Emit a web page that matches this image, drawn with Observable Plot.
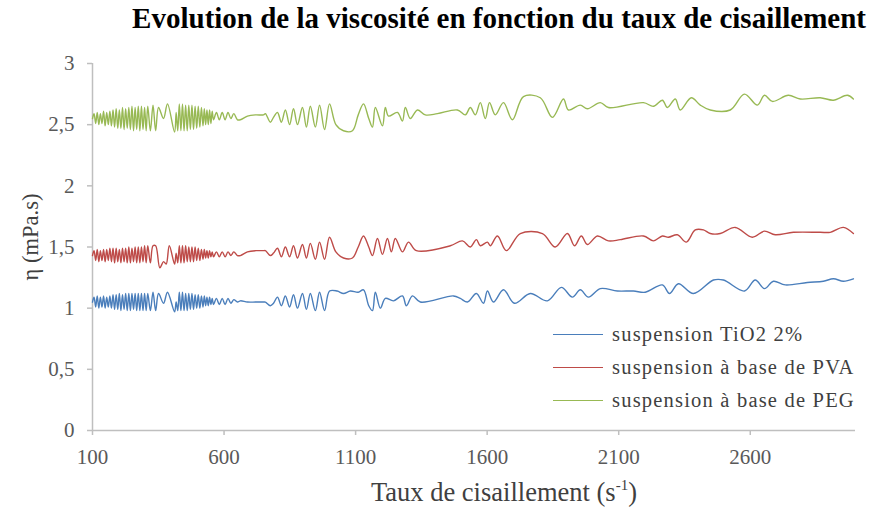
<!DOCTYPE html>
<html><head><meta charset="utf-8">
<script src="https://cdn.jsdelivr.net/npm/d3@7"></script>
<script src="https://cdn.jsdelivr.net/npm/@observablehq/plot@0.6"></script>
<style>
body{margin:0;background:#fff;}
#wrap{position:relative;width:871px;height:507px;font-family:"Liberation Serif",serif;}
#chart{position:absolute;left:0;top:0;}
#title{position:absolute;top:2px;right:5px;font-weight:bold;font-size:29px;color:#000;white-space:nowrap;}
#ylab{position:absolute;left:31px;top:237px;transform:translate(-50%,-50%) rotate(-90deg);font-size:22.5px;color:#404040;white-space:nowrap;}
#xlab{position:absolute;left:504px;top:492px;transform:translate(-50%,-50%);font-size:26.5px;color:#404040;white-space:nowrap;}
#xlab sup{font-size:15px;vertical-align:11px;}
.leg{position:absolute;left:553px;height:24px;display:flex;align-items:center;font-size:20.5px;letter-spacing:1.2px;color:#404040;white-space:nowrap;transform:translateY(-50%);}
.leg span.sw{display:inline-block;width:50px;height:0;border-top:1.5px solid;margin-right:9px;}
</style>
</head><body>
<div id="wrap">
<div id="chart"></div>
<div id="title"></div>
<div id="ylab"></div>
<div id="xlab"></div>
<div id="legend"></div>
</div>
<script>
const titleText = "Evolution de la viscosité en fonction du taux de cisaillement";
const yTitle = "η (mPa.s)";
const xTitle = "Taux de cisaillement (s";
const seriesNames = ["suspension TiO2 2%", "suspension à base de PVA", "suspension à base de PEG"];
const seriesColors = ["#4a7ebb", "#be4b48", "#98b954"];
const yTicks = [0, 0.5, 1, 1.5, 2, 2.5, 3];
const xTicks = [100, 600, 1100, 1600, 2100, 2600];

// [shear rate (s-1), viscosity (mPa.s)]
const tio2 = [[100,1.05],[106,1.09],[112,1.01],[118,1.10],[124,1.00],[130,1.09],[136,1.01],[142,1.10],[148,1.00],[154,1.09],[160,1.01],[166,1.10],[172,1.00],[178,1.11],[184,0.99],[190,1.11],[196,0.99],[202,1.12],[208,0.98],[214,1.11],[220,0.99],[226,1.12],[232,0.98],[238,1.12],[244,0.98],[250,1.12],[256,0.99],[262,1.12],[268,0.98],[274,1.12],[280,0.98],[286,1.12],[292,0.98],[298,1.12],[304,0.98],[310,1.12],[320,0.98],[330,1.13],[340,0.98],[351,1.12],[370,1.04],[385,1.13],[412,0.97],
[418,1.05],[424,0.98],[430,1.13],[436,0.98],[442,1.13],[448,0.98],[454,1.12],[460,0.98],[466,1.12],[472,0.99],[478,1.12],[484,0.99],[490,1.11],[496,1.00],[502,1.11],[508,1.00],[514,1.10],[520,1.01],[525,1.10],[530,1.02],[535,1.09],[540,1.02],[545,1.09],[550,1.03],[555,1.08],[560,1.03],[571,1.08],[582,1.03],[593,1.08],[604,1.03],[615,1.08],[626,1.04],[637,1.07],[651,1.05],[662,1.06],[689,1.05],[720,1.05],[750,1.05],[757,1.05],[776,1.02],[788,1.04],[803,1.09],[818,1.02],[833,1.10],[849,1.01],[864,1.11],[879,1.00],[898,1.12],[913,0.99],[928,1.12],[947,0.98],[963,1.13],[982,0.98],[1001,1.14],[1030,1.14],[1054,1.12],[1080,1.14],[1110,1.13],[1130,1.15],[1150,1.02],[1164,0.98],
[1175,1.13],[1194,1.00],[1213,1.08],[1244,1.06],[1278,1.10],[1293,1.02],[1316,1.10],[1346,1.05],[1472,1.10],[1498,1.08],[1525,1.05],[1559,1.12],[1586,1.04],[1601,1.14],[1624,1.05],[1662,1.15],[1704,1.04],[1764,1.12],[1829,1.06],[1882,1.17],[1924,1.09],[1954,1.15],[1985,1.09],[2030,1.16],[2095,1.14],[2156,1.14],[2201,1.13],[2266,1.19],[2293,1.12],[2327,1.20],[2384,1.12],[2460,1.23],[2498,1.23],[2578,1.14],[2619,1.23],[2654,1.16],[2688,1.22],[2733,1.19],[2817,1.21],[2878,1.22],[2916,1.24],[2954,1.22],[2992,1.24]];

const pva = [[100,1.43],[106,1.47],[112,1.39],[118,1.48],[124,1.38],[130,1.47],[136,1.39],[142,1.48],[148,1.38],[154,1.48],[160,1.39],[166,1.49],[172,1.38],[178,1.49],[184,1.37],[190,1.49],[196,1.38],[202,1.48],[208,1.37],[214,1.49],[220,1.38],[226,1.49],[232,1.37],[238,1.50],[244,1.37],[250,1.49],[256,1.38],[262,1.50],[268,1.37],[274,1.50],[280,1.37],[286,1.50],[292,1.38],[298,1.51],[304,1.37],[310,1.51],[320,1.37],[330,1.51],[340,1.51],[356,1.33],[370,1.38],[380,1.36],[392,1.51],[412,1.36],
[418,1.45],[424,1.37],[430,1.51],[436,1.37],[442,1.51],[448,1.37],[454,1.51],[460,1.38],[466,1.50],[472,1.38],[478,1.50],[484,1.38],[490,1.50],[496,1.39],[502,1.49],[508,1.39],[514,1.48],[520,1.40],[525,1.48],[530,1.41],[535,1.47],[540,1.41],[545,1.47],[550,1.42],[555,1.46],[560,1.42],[571,1.46],[582,1.42],[593,1.46],[604,1.42],[615,1.46],[626,1.43],[637,1.46],[651,1.43],[662,1.43],[689,1.46],[720,1.47],[750,1.47],[757,1.47],[776,1.43],[788,1.45],[803,1.49],[818,1.42],[833,1.50],[849,1.42],[864,1.51],[879,1.41],[898,1.52],[913,1.41],[928,1.53],[947,1.40],[963,1.54],[982,1.40],[1001,1.58],[1025,1.46],[1054,1.41],[1088,1.41],[1110,1.50],[1130,1.59],[1150,1.50],[1164,1.43],
[1183,1.57],[1202,1.44],[1221,1.57],[1236,1.46],[1251,1.57],[1278,1.46],[1301,1.54],[1331,1.47],[1460,1.51],[1506,1.55],[1536,1.50],[1559,1.56],[1574,1.51],[1601,1.54],[1612,1.51],[1639,1.59],[1673,1.47],[1726,1.61],[1810,1.61],[1859,1.50],[1905,1.61],[1932,1.51],[1958,1.59],[1981,1.52],[2019,1.59],[2061,1.55],[2106,1.56],[2194,1.59],[2232,1.55],[2266,1.59],[2289,1.58],[2323,1.60],[2357,1.54],[2391,1.64],[2422,1.64],[2448,1.61],[2486,1.61],[2543,1.66],[2608,1.58],[2654,1.63],[2695,1.60],[2764,1.62],[2866,1.62],[2904,1.62],[2954,1.66],[2992,1.61]];

const peg = [[100,2.55],[106,2.59],[112,2.51],[118,2.60],[124,2.50],[130,2.59],[136,2.51],[142,2.61],[148,2.49],[154,2.60],[160,2.50],[166,2.61],[172,2.49],[178,2.62],[184,2.48],[190,2.63],[196,2.47],[202,2.62],[208,2.47],[214,2.64],[220,2.46],[226,2.63],[232,2.47],[238,2.64],[244,2.46],[250,2.65],[256,2.45],[262,2.64],[268,2.46],[274,2.65],[280,2.45],[286,2.65],[292,2.46],[298,2.64],[304,2.45],[310,2.65],[320,2.45],[330,2.66],[340,2.45],[351,2.64],[370,2.55],[385,2.67],[412,2.44],
[418,2.60],[424,2.45],[430,2.67],[436,2.45],[442,2.67],[448,2.45],[454,2.66],[460,2.45],[466,2.66],[472,2.46],[478,2.66],[484,2.46],[490,2.65],[496,2.47],[502,2.65],[508,2.48],[514,2.64],[520,2.49],[525,2.63],[530,2.50],[535,2.62],[540,2.50],[545,2.62],[550,2.51],[555,2.61],[560,2.54],[571,2.60],[582,2.54],[593,2.60],[604,2.54],[615,2.60],[626,2.55],[637,2.59],[651,2.54],[662,2.54],[689,2.57],[720,2.58],[750,2.58],[757,2.59],[776,2.52],[788,2.56],[803,2.60],[818,2.52],[833,2.62],[849,2.50],[864,2.63],[879,2.50],[898,2.64],[913,2.48],[928,2.65],[947,2.48],[963,2.66],[982,2.46],[1001,2.67],[1025,2.50],[1054,2.45],[1088,2.45],[1110,2.58],[1130,2.67],[1150,2.55],[1164,2.48],
[1175,2.64],[1202,2.49],[1213,2.64],[1225,2.57],[1259,2.60],[1278,2.53],[1289,2.64],[1308,2.55],[1335,2.62],[1365,2.58],[1411,2.59],[1487,2.62],[1517,2.58],[1536,2.64],[1555,2.58],[1574,2.68],[1593,2.55],[1609,2.68],[1631,2.58],[1662,2.68],[1696,2.54],[1738,2.73],[1802,2.72],[1848,2.56],[1890,2.71],[1909,2.62],[1954,2.66],[1981,2.63],[2030,2.68],[2061,2.64],[2194,2.68],[2232,2.65],[2266,2.70],[2285,2.64],[2315,2.71],[2334,2.62],[2376,2.72],[2410,2.66],[2448,2.62],[2524,2.62],[2578,2.75],[2627,2.66],[2654,2.74],[2684,2.69],[2745,2.74],[2790,2.71],[2866,2.72],[2916,2.70],[2969,2.74],[2992,2.71]];

const seriesData = [tio2, pva, peg];

const comma = d => String(d).replace(".", ",");

const lineMarks = seriesData.map((s, i) => Plot.line(s, {
  x: d => d[0], y: d => d[1], stroke: seriesColors[i], strokeWidth: 1.4, curve: "catmull-rom"
}));

const chart = Plot.plot({
  width: 871, height: 507,
  marginLeft: 92, marginRight: 16, marginTop: 63, marginBottom: 77,
  x: {domain: [100, 3000]},
  y: {domain: [0, 3]},
  style: {fontFamily: '"Liberation Serif",serif', fontSize: "21px", background: "white", color: "#595959"},
  marks: [
    Plot.ruleY([0], {stroke: "#bfbfbf", strokeWidth: 1.5}),
    Plot.ruleX([100], {stroke: "#bfbfbf", strokeWidth: 1.5}),
    Plot.axisY({ticks: yTicks, tickFormat: comma, tickSize: 5, tickPadding: 13, stroke: "#bfbfbf", strokeWidth: 1.5, label: null, fill: "#595959", strokeOpacity: 1}),
    Plot.axisX({ticks: xTicks, tickFormat: d => String(d), tickSize: 5, tickPadding: 14, stroke: "#bfbfbf", strokeWidth: 1.5, label: null, fill: "#595959", strokeOpacity: 1}),
    ...lineMarks
  ]
});
document.getElementById("chart").appendChild(chart);

document.getElementById("title").textContent = titleText;
document.getElementById("ylab").textContent = yTitle;
document.getElementById("xlab").innerHTML = xTitle + "<sup>-1</sup>)";

const legendY = [334, 367, 400];
const legend = document.getElementById("legend");
seriesNames.forEach((name, i) => {
  const row = document.createElement("div");
  row.className = "leg";
  row.style.top = legendY[i] + "px";
  const sw = document.createElement("span");
  sw.className = "sw";
  sw.style.borderTopColor = seriesColors[i];
  row.appendChild(sw);
  row.appendChild(document.createTextNode(name));
  legend.appendChild(row);
});
</script>
</body></html>
